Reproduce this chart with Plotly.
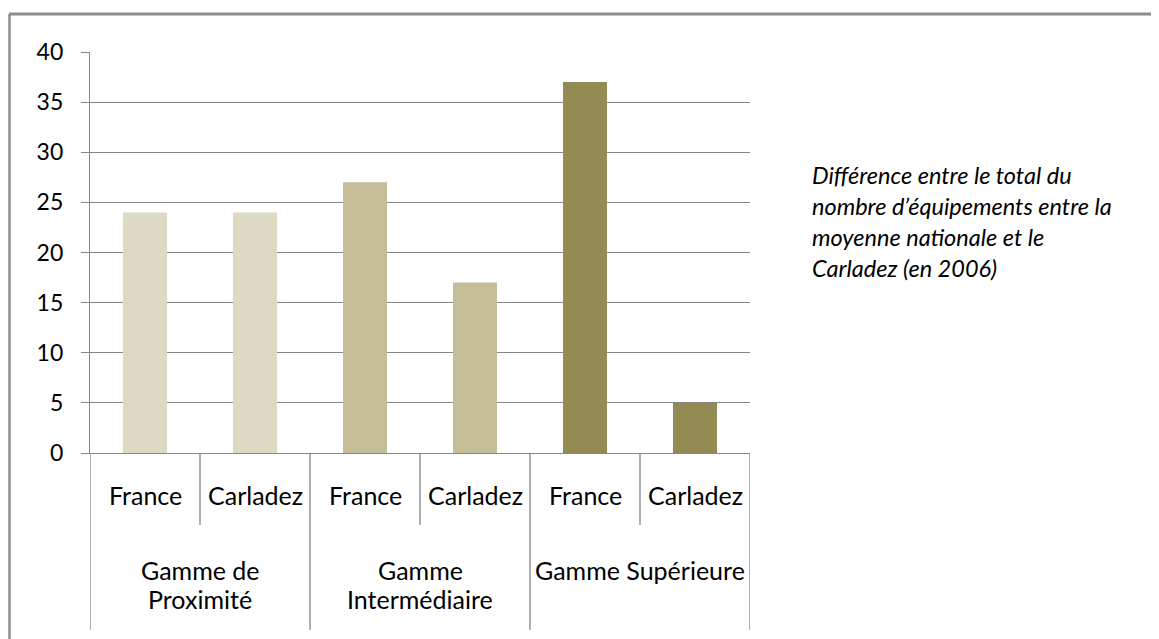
import plotly.graph_objects as go

# ---- data ----
groups = ["Gamme de<br>Proximité", "Gamme<br>Intermédiaire", "Gamme Supérieure"]
subs = ["France", "Carladez"]
values = [24, 24, 27, 17, 37, 5]
group_colors = ["#DDD9C3", "#C4BD97", "#948A54"]
y_ticks = [0, 5, 10, 15, 20, 25, 30, 35, 40]
note_lines = [
    "Différence entre le total du",
    "nombre d’équipements entre la",
    "moyenne nationale et le",
    "Carladez (en 2006)",
]

# ---- layout geometry (pixels, in page coordinates) ----
OFF = 8  # default body margin of the html page
PW, PH = 1159, 639
W, H = PW - OFF, PH - OFF
L, R, T, B = 90, 750, 52, 453
GRAY = "#868686"
FONT = "Lato"


def py(p):
    return (B - p) / (B - T)


def px(p):
    return (p - L) / (R - L)


cats = [f"{g}|{s}" for g in groups for s in subs]
colors = [c for c in group_colors for _ in subs]

fig = go.Figure(
    go.Bar(x=cats, y=values, marker=dict(color=colors, line=dict(width=0)),
           hoverinfo="skip")
)

shapes = []
annotations = []

# separators below axis
n = len(cats)
for k in range(n + 1):
    long_ = k % len(subs) == 0
    shapes.append(dict(type="line", xref="x", yref="paper",
                       x0=k - 0.5, x1=k - 0.5, y0=0,
                       y1=py(630) if long_ else py(525),
                       line=dict(color=GRAY, width=1.3)))

# sub labels
for i, c in enumerate(cats):
    annotations.append(dict(x=c, y=0, xref="x", yref="paper", yshift=-42,
                            yanchor="middle", xanchor="center", showarrow=False,
                            text=c.split("|")[1],
                            font=dict(family=FONT, size=25, color="#000000")))
# group labels (one annotation per text line, Office-like line spacing)
for gi, g in enumerate(groups):
    cx = gi * len(subs) + (len(subs) - 1) / 2
    for li, part in enumerate(g.split("<br>")):
        annotations.append(dict(x=cx, y=0, xref="x", yref="paper",
                                yshift=-(117 + 29 * li),
                                yanchor="middle", xanchor="center", showarrow=False,
                                text=part,
                                font=dict(family=FONT, size=25, color="#000000")))

# note text
for j, line in enumerate(note_lines):
    annotations.append(dict(x=px(810), y=py(175 + 31 * j), xref="paper", yref="paper",
                            xanchor="left", yanchor="middle", showarrow=False,
                            text=f"<i>{line}</i>",
                            font=dict(family=FONT, size=23.5, color="#000000")))

# outer frame (top & left)
shapes.append(dict(type="line", xref="paper", yref="paper",
                   x0=px(9), x1=px(PW + 5), y0=py(14), y1=py(14),
                   line=dict(color="#8C8C8C", width=3)))
shapes.append(dict(type="line", xref="paper", yref="paper",
                   x0=px(9.5), x1=px(9.5), y0=py(14), y1=py(PH + 5),
                   line=dict(color="#8C8C8C", width=2.5)))

fig.update_layout(
    width=W, height=H,
    margin=dict(l=L - OFF, r=PW - R, t=T - OFF, b=PH - B, pad=0),
    paper_bgcolor="white", plot_bgcolor="white",
    bargap=0.6,
    showlegend=False,
    shapes=shapes,
    annotations=annotations,
    font=dict(family=FONT, size=23, color="#000000"),
)
fig.update_xaxes(showticklabels=False, showgrid=False, zeroline=False,
                 showline=True, linecolor=GRAY, linewidth=1.3, ticks="",
                 range=[-0.5, n - 0.5])
fig.update_yaxes(range=[0, 40], tickvals=y_ticks, showgrid=True, gridcolor=GRAY,
                 gridwidth=1.3, zeroline=False, showline=True, linecolor=GRAY,
                 linewidth=1.3, ticks="outside", ticklen=8, tickcolor=GRAY,
                 tickwidth=1.3, ticklabelstandoff=13,
                 tickfont=dict(family=FONT, size=23, color="#000000"))

fig.write_html("out.html")
